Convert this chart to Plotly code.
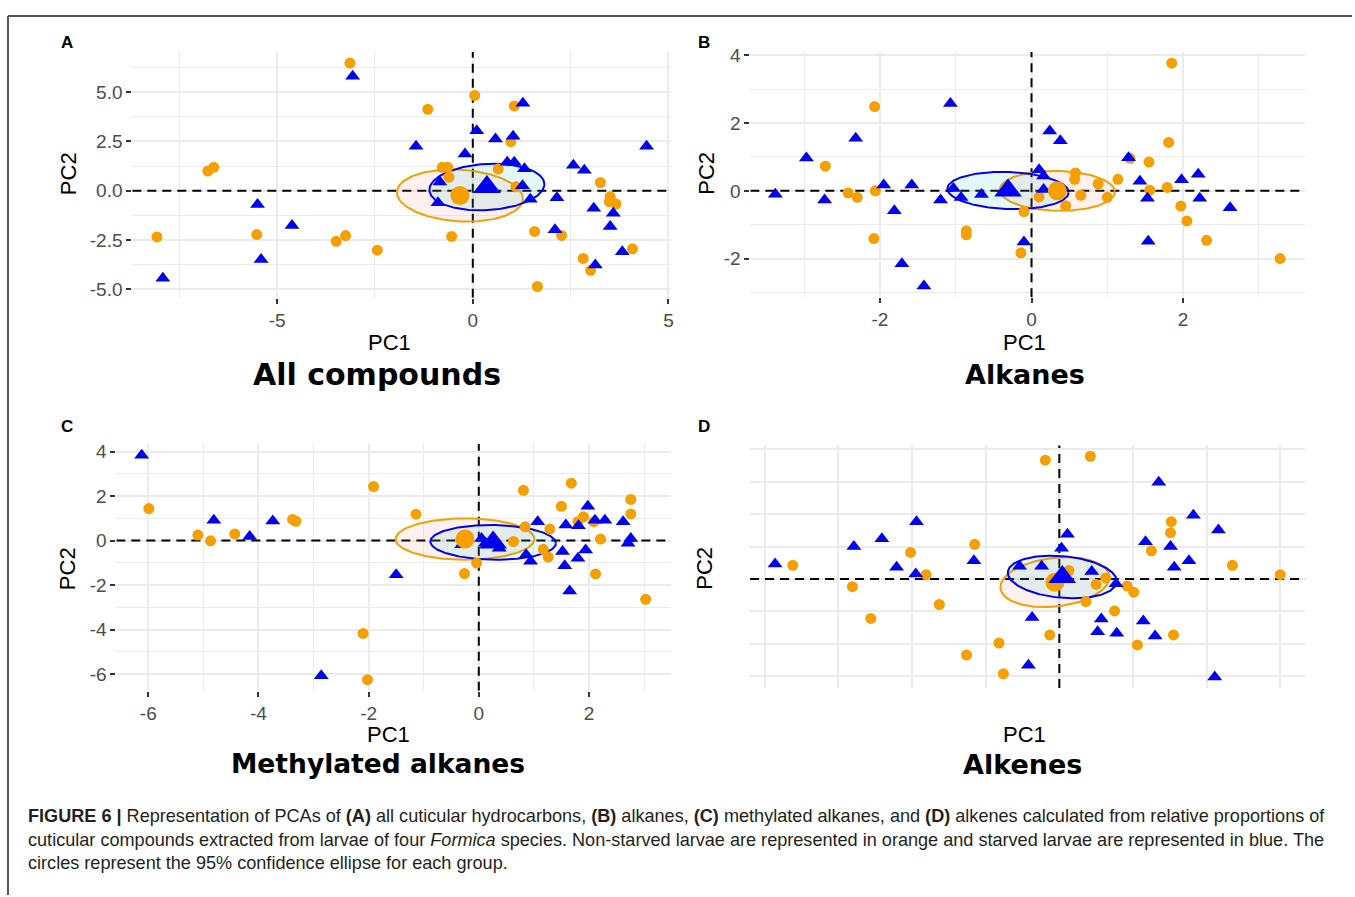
import numpy as np
import plotly.graph_objects as go

W, H = 1355, 897
ORANGE = "#F5A000"
BLUE = "#0000EE"

# ---------------- data ----------------
# Panel A: all compounds
a_ns_x = [-3.14, 0.05, -1.15, 1.06, 0.97, -6.77, -6.62, -0.78, -0.64, -0.61, 0.65, 1.10, 3.26, 3.51,
          3.49, 3.66, -8.07, -5.52, -3.49, -3.25, -2.44, -0.54, 1.58, 2.27, 2.82, 3.01, 4.08, 1.65]
a_ns_y = [6.47, 4.83, 4.13, 4.30, 2.49, 1.00, 1.19, 1.19, 1.19, 0.69, 1.10, 0.20, 0.42, -0.30,
          -0.55, -0.67, -2.34, -2.22, -2.56, -2.27, -3.01, -2.31, -2.06, -2.26, -3.43, -4.03, -2.94, -4.85]
a_s_x = [-3.07, 1.28, 0.10, 0.58, 1.03, -1.45, -0.20, 0.88, 1.06, 1.32, -0.84, 1.27, -0.89, 1.47,
         2.15, 2.57, 2.85, 3.09, 3.59, 3.51, 2.10, 3.82, 3.13, 4.44, -5.50, -4.62, -5.41, -7.92]
a_s_y = [5.80, 4.43, 3.04, 2.63, 2.76, 2.26, 1.87, 1.45, 1.45, 1.12, 0.45, 0.25, -0.60, -0.43,
         -0.35, 1.29, 1.04, -0.89, -1.14, -1.81, -1.97, -3.09, -3.76, 2.26, -0.69, -1.76, -3.48, -4.43]
a_mean_ns = [-0.33, -0.24]
a_mean_s = [0.36, 0.19]
a_ell_ns = [1.61, 1.32, -0.12]   # half-width x, half-height y, correlation
a_ell_s = [1.47, 1.18, 0.12]
a_xticks = [-5, 0, 5]
a_xlabels = ["-5", "0", "5"]
a_yticks = [-5, -2.5, 0, 2.5, 5]
a_ylabels = ["-5.0", "-2.5", "0.0", "2.5", "5.0"]

# Panel B: alkanes
b_ns_x = [1.85, -2.07, 1.81, -2.72, 1.55, 1.30, 1.14, 0.58, 0.57, 0.88, 1.56, 1.79, -2.42, -2.30,
          -2.06, 0.65, 1.00, 0.10, 0.45, -0.10, 1.97, 2.05, -2.08, -0.86, -0.86, 2.31, -0.14, 3.28]
b_ns_y = [3.77, 2.49, 1.43, 0.73, 0.85, 0.96, 0.34, 0.53, 0.34, 0.21, 0.02, 0.10, -0.06, -0.19,
          0.00, -0.13, -0.19, -0.18, -0.44, -0.61, -0.45, -0.89, -1.41, -1.18, -1.30, -1.46, -1.83, -2.00]
b_s_x = [-1.07, 0.24, 0.38, -2.32, -2.97, 1.28, 0.10, 0.16, 2.20, 1.98, 1.43, -1.95, -1.58, -3.38,
         -2.73, -1.03, -0.93, -0.66, -1.20, 0.16, 1.53, 2.22, 2.62, -1.81, -0.10, 1.54, -1.71, -1.42]
b_s_y = [2.58, 1.77, 1.48, 1.55, 0.97, 0.98, 0.62, 0.44, 0.49, 0.33, 0.28, 0.17, 0.17, -0.10,
         -0.27, 0.07, -0.20, -0.11, -0.27, 0.04, -0.22, -0.22, -0.50, -0.59, -1.51, -1.49, -2.15, -2.81]
b_mean_ns = [0.34, 0.0]
b_mean_s = [-0.31, 0.01]
b_ell_ns = [0.76, 0.59, -0.05]
b_ell_s = [0.80, 0.55, -0.10]
b_xticks = [-2, 0, 2]
b_xlabels = ["-2", "0", "2"]
b_yticks = [-2, 0, 2, 4]
b_ylabels = ["-2", "0", "2", "4"]

# Panel C: methylated alkanes
c_ns_x = [-5.99, -1.91, -5.10, -4.87, -4.43, -3.38, -3.32, -1.14, 0.81, 1.68, 1.50, 2.76, 2.76, 1.90,
          1.80, 2.09, 0.84, 1.29, 0.63, 2.21, 1.17, 1.26, -0.04, -0.26, 2.12, 3.03, -2.10, -2.02]
c_ns_y = [1.44, 2.43, 0.25, -0.01, 0.30, 0.95, 0.87, 1.19, 2.26, 2.58, 1.54, 1.85, 1.20, 1.07,
          0.85, 0.85, 0.62, 0.52, -0.04, 0.07, -0.39, -0.74, -1.01, -1.48, -1.50, -2.64, -4.17, -6.25]
c_s_x = [-6.12, -4.81, -3.74, -4.16, -1.50, -2.86, -0.31, 0.12, 0.37, 0.05, 1.07, 1.58, 1.81, 1.98,
         2.11, 2.29, 2.62, 2.76, 2.71, 0.86, 0.94, 1.52, 1.94, 1.80, 1.56, 1.65]
c_s_y = [3.84, 0.92, 0.88, 0.18, -1.53, -6.08, -0.19, -0.12, -0.34, 0.10, 0.85, 0.70, 0.67, 1.54,
         0.91, 0.91, 0.85, 0.10, -0.12, -0.64, -0.93, -0.49, -0.42, -0.79, -1.13, -2.27]
c_mean_ns = [-0.25, 0.07]
c_mean_s = [0.26, -0.08]
c_ell_ns = [1.26, 0.93, 0.0]
c_ell_s = [1.14, 0.78, -0.05]
c_xticks = [-6, -4, -2, 0, 2]
c_xlabels = ["-6", "-4", "-2", "0", "2"]
c_yticks = [-6, -4, -2, 0, 2, 4]
c_ylabels = ["-6", "-4", "-2", "0", "2", "4"]

# Panel D: alkenes (no tick labels in the original)
d_ns_x = [-0.19, 0.42, 1.52, 1.51, -1.15, -2.02, 1.25, -3.62, 2.35, 3.00, -1.81, 0.13, 0.63, 0.50,
          -2.81, 0.92, 1.01, 0.36, -1.63, 0.75, -2.56, -0.13, 1.55, -0.82, 1.06, -1.26, -0.76]
d_ns_y = [3.67, 3.79, 1.77, 1.43, 1.07, 0.82, 0.87, 0.42, 0.42, 0.13, 0.13, 0.26, 0.03, -0.17,
          -0.24, -0.22, -0.41, -0.70, -0.79, -0.99, -1.22, -1.73, -1.73, -1.98, -2.04, -2.35, -2.93]
d_s_x = [1.35, 1.82, -1.94, 2.16, 0.11, -2.41, -2.79, 1.17, 1.51, 0.03, -1.16, 1.76, -3.86, -2.21,
         1.56, -0.24, -0.54, 0.44, -1.95, 0.77, -0.37, 0.57, 1.14, 0.52, 0.78, 1.30, -0.42, 2.11]
d_s_y = [2.99, 1.97, 1.77, 1.51, 1.38, 1.24, 1.00, 1.15, 1.00, 0.95, 0.56, 0.56, 0.46, 0.36,
         0.36, 0.39, 0.39, 0.23, 0.15, -0.15, -1.19, -1.24, -1.30, -1.63, -1.68, -1.76, -2.67, -3.03]
d_mean_ns = [-0.06, -0.10]
d_mean_s = [0.04, 0.06]
d_ell_ns = [0.74, 0.77, 0.20]
d_ell_s = [0.74, 0.66, -0.20]
d_xticks = [-4, -3, -2, -1, 0, 1, 2, 3]
d_yticks = [-3, -2, -1, 0, 1, 2, 3, 4]

titles = ["All compounds", "Alkanes", "Methylated alkanes", "Alkenes"]
letters = ["A", "B", "C", "D"]

# ---------------- layout geometry (pixels) ----------------
panels = [
    dict(dom=(132.6, 672.7, 45.3, 293.7), xr=[-8.70, 5.07], yr=[-5.42, 7.04],
         xt=(a_xticks, a_xlabels), yt=(a_yticks, a_ylabels), xm=2.5, ym=1.25, labels=True,
         ns=(a_ns_x, a_ns_y), s=(a_s_x, a_s_y), mns=a_mean_ns, ms=a_mean_s, ens=a_ell_ns, es=a_ell_s,
         letter=(67, 36), pc1=(390, 339), pc2=(68, 168), title=(378, 371), tsize=30),
    dict(dom=(752.0, 1308.0, 45.5, 293.1), xr=[-3.71, 3.61], yr=[-3.14, 4.10],
         xt=(b_xticks, b_xlabels), yt=(b_yticks, b_ylabels), xm=1, ym=1, labels=True,
         ns=(b_ns_x, b_ns_y), s=(b_s_x, b_s_y), mns=b_mean_ns, ms=b_mean_s, ens=b_ell_ns, es=b_ell_s,
         letter=(706, 36), pc1=(1027, 339), pc2=(708, 168), title=(1027, 371), tsize=27),
    dict(dom=(116.6, 672.5, 441.5, 690.7), xr=[-6.58, 3.49], yr=[-6.75, 4.34],
         xt=(c_xticks, c_xlabels), yt=(c_yticks, c_ylabels), xm=1, ym=1, labels=True,
         ns=(c_ns_x, c_ns_y), s=(c_s_x, c_s_y), mns=c_mean_ns, ms=c_mean_s, ens=c_ell_ns, es=c_ell_s,
         letter=(67, 424), pc1=(389, 735), pc2=(67, 567), title=(379, 764), tsize=26.5),
    dict(dom=(751.7, 1308.2, 442.7, 687.9), xr=[-4.20, 3.34], yr=[-3.37, 4.13],
         xt=(d_xticks, None), yt=(d_yticks, None), xm=None, ym=None, labels=False,
         ns=(d_ns_x, d_ns_y), s=(d_s_x, d_s_y), mns=d_mean_ns, ms=d_mean_s, ens=d_ell_ns, es=d_ell_s,
         letter=(706, 424), pc1=(1027, 735), pc2=(706, 567), title=(1025, 765), tsize=27),
]


def px(x):
    return x / W


def py(y):
    return 1 - y / H


def ellipse(mean, par):
    t = np.linspace(0, 2 * np.pi, 181)
    sx, sy, r = par
    ex = mean[0] + sx * np.cos(t)
    ey = mean[1] + sy * (r * np.cos(t) + np.sqrt(1 - r * r) * np.sin(t))
    return ex, ey


fig = go.Figure()
layout = dict(width=W, height=H, margin=dict(l=0, r=0, t=0, b=0),
              paper_bgcolor="white", plot_bgcolor="white", showlegend=False)
shapes = []
annotations = []

GRID = "#EBEBEB"
SANS = "Liberation Sans, Arial, sans-serif"
TICKFONT = dict(family=SANS, size=19, color="#4D4D4D")

for i, p in enumerate(panels):
    n = "" if i == 0 else str(i + 1)
    xa, ya = "x" + n, "y" + n
    x0, x1, y0, y1 = p["dom"]
    xaxis = dict(domain=[px(x0), px(x1)], range=p["xr"], anchor=ya, tickmode="array",
                 tickvals=p["xt"][0], showgrid=True, gridcolor=GRID, gridwidth=2, zeroline=False,
                 showline=False, tickfont=TICKFONT, fixedrange=True)
    yaxis = dict(domain=[py(y1), py(y0)], range=p["yr"], anchor=xa, tickmode="array",
                 tickvals=p["yt"][0], showgrid=True, gridcolor=GRID, gridwidth=2, zeroline=False,
                 showline=False, tickfont=TICKFONT, fixedrange=True)
    if p["labels"]:
        xaxis["ticktext"] = p["xt"][1]
        yaxis["ticktext"] = p["yt"][1]
        for ax in (xaxis, yaxis):
            ax.update(ticks="outside", ticklen=5, tickwidth=2, tickcolor="#333333", showticklabels=True)
        xaxis["minor"] = dict(tickmode="linear", dtick=p["xm"], tick0=0, showgrid=True,
                              gridcolor=GRID, gridwidth=1, ticks="")
        yaxis["minor"] = dict(tickmode="linear", dtick=p["ym"], tick0=0, showgrid=True,
                              gridcolor=GRID, gridwidth=1, ticks="")
    else:
        xaxis.update(ticks="", showticklabels=False, gridwidth=1.5)
        yaxis.update(ticks="", showticklabels=False, gridwidth=1.5)
    layout["xaxis" + n] = xaxis
    layout["yaxis" + n] = yaxis

    # ellipses
    for mean, par, lc, fc in [(p["mns"], p["ens"], ORANGE, "rgba(248,118,109,0.10)"),
                              (p["ms"], p["es"], BLUE, "rgba(0,191,196,0.10)")]:
        ex, ey = ellipse(mean, par)
        fig.add_trace(go.Scatter(x=ex, y=ey, mode="lines", fill="toself", fillcolor=fc,
                                 line=dict(color=lc, width=2), xaxis=xa, yaxis=ya, hoverinfo="skip"))
    # points
    fig.add_trace(go.Scatter(x=p["ns"][0], y=p["ns"][1], mode="markers",
                             marker=dict(symbol="circle", size=11, color=ORANGE, line=dict(width=0)),
                             xaxis=xa, yaxis=ya, name="Non-starved"))
    fig.add_trace(go.Scatter(x=p["s"][0], y=p["s"][1], mode="markers",
                             marker=dict(symbol="triangle-up", size=13, color=BLUE, line=dict(width=0)),
                             xaxis=xa, yaxis=ya, name="Starved"))
    # group means
    fig.add_trace(go.Scatter(x=[p["mns"][0]], y=[p["mns"][1]], mode="markers",
                             marker=dict(symbol="circle", size=19, color=ORANGE, line=dict(width=0)),
                             xaxis=xa, yaxis=ya))
    fig.add_trace(go.Scatter(x=[p["ms"][0]], y=[p["ms"][1]], mode="markers",
                             marker=dict(symbol="triangle-up", size=24, color=BLUE, line=dict(width=0)),
                             xaxis=xa, yaxis=ya))

    # dashed zero reference lines (between grid and data)
    dash = "9px,6px"
    shapes.append(dict(type="line", xref=xa, yref=ya, x0=0, x1=0, y0=p["yr"][0], y1=p["yr"][1],
                       line=dict(color="black", width=2, dash=dash), layer="between"))
    shapes.append(dict(type="line", xref=xa, yref=ya, x0=p["xr"][0], x1=p["xr"][1], y0=0, y1=0,
                       line=dict(color="black", width=2, dash=dash), layer="between"))

    # texts
    annotations.append(dict(text="<b>%s</b>" % letters[i], x=px(p["letter"][0]), y=py(p["letter"][1]),
                            xref="paper", yref="paper", showarrow=False, xanchor="center", yanchor="middle",
                            font=dict(family=SANS, size=17, color="black")))
    annotations.append(dict(text="PC1", x=px(p["pc1"][0]), y=py(p["pc1"][1]), xref="paper", yref="paper",
                            showarrow=False, xanchor="center", yanchor="middle",
                            font=dict(family=SANS, size=22, color="black")))
    annotations.append(dict(text="PC2", x=px(p["pc2"][0]), y=py(p["pc2"][1]), xref="paper", yref="paper",
                            showarrow=False, xanchor="center", yanchor="middle", textangle=-90,
                            font=dict(family=SANS, size=22, color="black")))
    annotations.append(dict(text="<b>%s</b>" % titles[i], x=px(p["title"][0]), y=py(p["title"][1]),
                            xref="paper", yref="paper", showarrow=False, xanchor="center", yanchor="middle",
                            font=dict(family="DejaVu Sans, Verdana, sans-serif", size=p["tsize"],
                                      color="black")))

# figure frame (left and top rules)
shapes.append(dict(type="line", xref="paper", yref="paper", x0=px(8), x1=px(8), y0=0, y1=py(9),
                   line=dict(color="#555555", width=2)))
shapes.append(dict(type="line", xref="paper", yref="paper", x0=px(8), x1=1, y0=py(9), y1=py(9),
                   line=dict(color="#555555", width=2)))

caption = [
    "<b>FIGURE 6 |</b> Representation of PCAs of <b>(A)</b> all cuticular hydrocarbons, <b>(B)</b> alkanes, "
    "<b>(C)</b> methylated alkanes, and <b>(D)</b> alkenes calculated from relative proportions of",
    "cuticular compounds extracted from larvae of four <i>Formica</i> species. Non-starved larvae are represented "
    "in orange and starved larvae are represented in blue. The",
    "circles represent the 95% confidence ellipse for each group.",
]
for k, line in enumerate(caption):
    annotations.append(dict(text=line, x=px(26), y=py(817 + 24 * k), xref="paper", yref="paper",
                            showarrow=False, xanchor="left", yanchor="middle",
                            font=dict(family=SANS, size=18.1, color="#231F20")))

layout["shapes"] = shapes
layout["annotations"] = annotations
fig.update_layout(**layout)

pin_js = (
    "document.documentElement.style.margin='0px';"
    "document.body.style.margin='0px';document.body.style.padding='0px';"
    "var gd=document.querySelector('.plotly-graph-div');"
    "if(gd){gd.style.position='absolute';gd.style.left='0px';gd.style.top='0px';}"
)
fig.write_html("out.html", config={"displayModeBar": False}, post_script=pin_js)
